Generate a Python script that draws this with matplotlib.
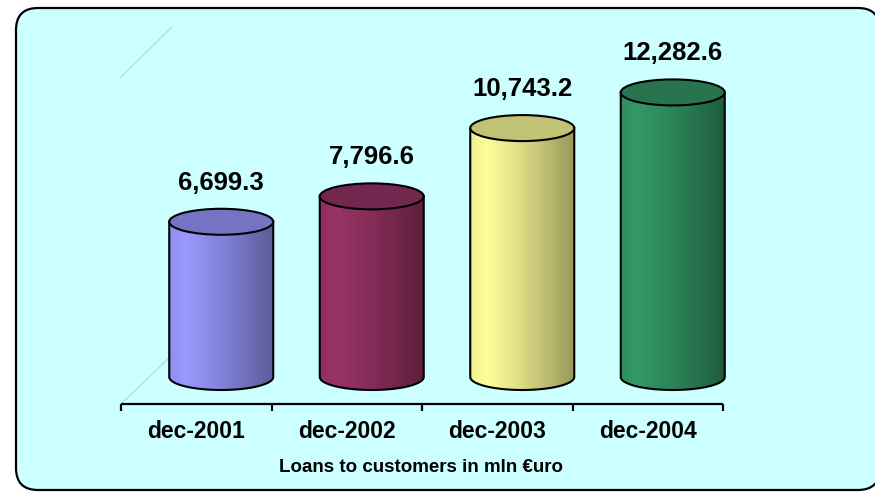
import numpy as np
import matplotlib
matplotlib.use("Agg")
import matplotlib.pyplot as plt
from matplotlib.patches import FancyBboxPatch, Polygon, Ellipse

plt.rcParams['font.family'] = ['Liberation Sans', 'DejaVu Sans']

# Data
categories = ["dec-2001", "dec-2002", "dec-2003", "dec-2004"]
loans = [6699.3, 7796.6, 10743.2, 12282.6]
value_labels = ["6,699.3", "7,796.6", "10,743.2", "12,282.6"]
axis_title = "Loans to customers in mln €uro"
bar_colors = ["#9999FF", "#993366", "#FFFF99", "#339966"]

W, H = 875, 493
fig = plt.figure(figsize=(W / 100, H / 100), dpi=100)
fig.patch.set_facecolor("white")

# Background layer in pixel coordinates (frame, title, wall edges)
bg = fig.add_axes([0, 0, 1, 1])
bg.set_xlim(0, W)
bg.set_ylim(H, 0)
bg.axis("off")
frame = FancyBboxPatch((16, 8), 864, 482,
                       boxstyle="round,pad=0,rounding_size=22",
                       facecolor="#CCFFFF", edgecolor="black", linewidth=1.6)
bg.add_patch(frame)
edge_col = "#a8cccc"
bg.plot([121, 170], [404, 357], color=edge_col, lw=0.6)
bg.plot([120, 172], [78, 27], color=edge_col, lw=0.6)
bg.text(421, 468, axis_title, ha="center", va="center",
        fontsize=13.5, fontweight="bold", color="black")

# Main plotting axes: value 0 sits at pixel row 377, S pixels per unit
S = 0.02317
y0pix = 377
ylo, yhi = -1800, 14545
x_left, x_right = 121, 723
px_per_cat = (x_right - x_left) / 4.0
extra = 0.5                             # room to the right for the last cylinder
bottom_pix = y0pix - ylo * S
ax = fig.add_axes([x_left / W, (H - bottom_pix) / H,
                   (x_right - x_left + extra * px_per_cat) / W,
                   (yhi - ylo) * S / H])
ax.patch.set_visible(False)
for sp in ax.spines.values():
    sp.set_visible(False)
ax.set_xticks([])
ax.set_yticks([])

depth_shift = 25 / px_per_cat          # cylinders sit behind the axis line
half_w = 52 / px_per_cat
ry = 13 / S


def shade(t):
    return np.interp(t, [0.0, 0.15, 0.5, 1.0], [0.93, 1.0, 0.86, 0.6])


for i, (v, col) in enumerate(zip(loans, bar_colors)):
    xc = i + depth_shift
    x0, x1 = xc - half_w, xc + half_w
    base = np.array(matplotlib.colors.to_rgb(col))

    theta = np.linspace(np.pi, 2 * np.pi, 60)
    arc = np.column_stack([xc + half_w * np.cos(theta), ry * np.sin(theta)])
    verts = np.vstack([[x0, v], arc, [x1, v]])
    body = Polygon(verts, closed=True, facecolor="none", edgecolor="none",
                   transform=ax.transData)
    ax.add_patch(body)

    t = np.linspace(0, 1, 200)
    img = np.clip(shade(t)[:, None] * base[None, :], 0, 1)[None, :, :]
    im = ax.imshow(img, extent=[x0, x1, -ry, v], aspect="auto",
                   interpolation="bilinear", zorder=2)
    im.set_clip_path(body)

    outline = Polygon(verts, closed=True, facecolor="none",
                      edgecolor="black", linewidth=1.5, zorder=3)
    ax.add_patch(outline)
    top = Ellipse((xc, v), 2 * half_w, 2 * ry, facecolor=base * 0.76,
                  edgecolor="black", linewidth=1.5, zorder=4)
    ax.add_patch(top)

    ax.text(xc, v + 39 / S, value_labels[i], ha="center", va="center",
            fontsize=18.5, fontweight="bold", color="black", zorder=5)

# Category axis line with boundary ticks
axis_y = (y0pix - 404) / S
tick_len = 7 / S
ax.plot([-0.5, 3.5], [axis_y, axis_y], color="black", lw=1.6,
        clip_on=False, solid_capstyle="butt")
for b in np.arange(-0.5, 4.0, 1.0):
    ax.plot([b, b], [axis_y, axis_y - tick_len], color="black", lw=1.6,
            clip_on=False, solid_capstyle="butt")
label_y = (y0pix - 432) / S
for i, c in enumerate(categories):
    ax.text(i, label_y, c, ha="center", va="center", fontsize=16.5,
            fontweight="bold", color="black", clip_on=False)

ax.set_xlim(-0.5, 3.5 + extra)
ax.set_ylim(ylo, yhi)

fig.savefig("out.png", dpi=100)
